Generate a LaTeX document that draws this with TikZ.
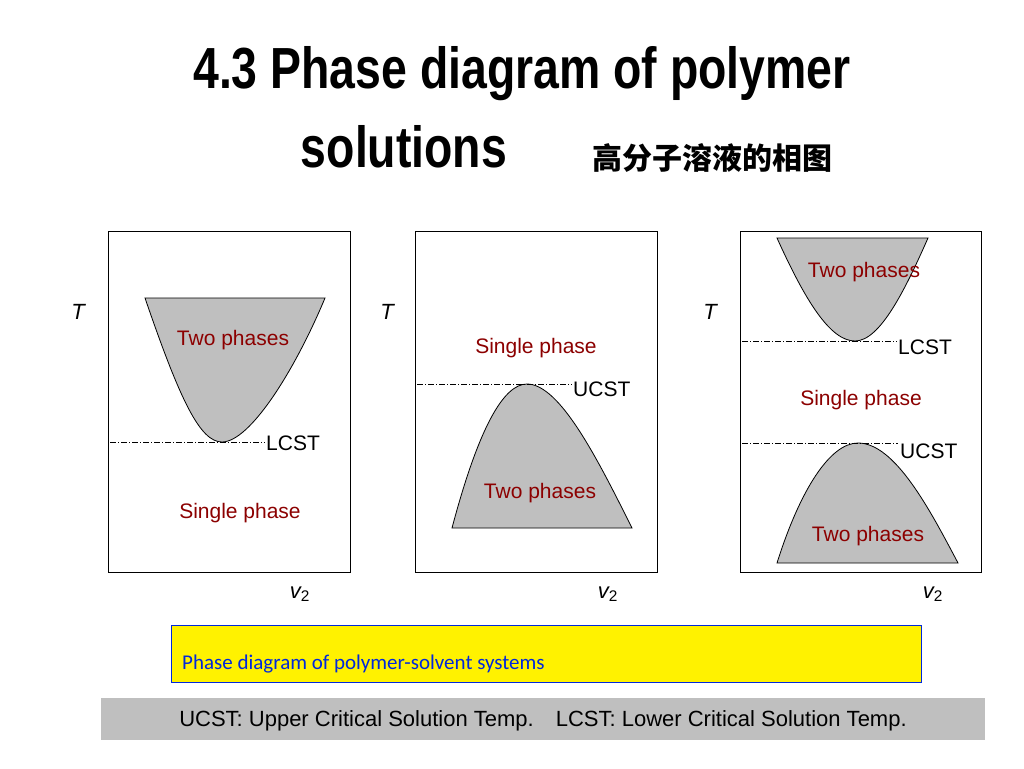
\documentclass[tikz,border=0pt]{standalone}
\usepackage{fontspec}
\setmainfont{Liberation Sans}
\newfontfamily\cjk{Noto Sans CJK SC}
\newfontfamily\carl{Carlito}
\definecolor{dred}{RGB}{140,0,0}
\definecolor{ublue}{RGB}{0,40,220}
\begin{document}
\begin{tikzpicture}[x=1pt,y=-1pt,
  lab/.style={text=dred,font=\fontsize{21}{21}\selectfont,inner sep=0pt},
  crit/.style={font=\fontsize{21}{21}\selectfont,inner sep=0pt,anchor=west},
  ax/.style={font=\fontsize{22}{22}\selectfont\itshape,inner sep=0pt},
  frame/.style={draw=black,line width=0.8pt},
  dd/.style={line width=0.6pt,dash pattern=on 6pt off 2pt on 1pt off 2pt},
  ph/.style={fill=black!25,draw=black,line width=0.8pt}]
\useasboundingbox (0,0) rectangle (1024,768);
\fill[white] (0,0) rectangle (1024,768);
% title
\node[font=\fontsize{58}{58}\selectfont\bfseries,xscale=0.8,inner sep=0pt] (t1) at (522,74) {4.3 Phase diagram of polymer};
\node[font=\fontsize{58}{58}\selectfont\bfseries,xscale=0.8,inner sep=0pt] (t2) at (404,147) {solutions};
\node[font=\fontsize{30}{30}\selectfont\cjk\bfseries,inner sep=0pt] (t3) at (712,158) {高分子溶液的相图};
% panel 1
\draw[frame] (108,231) rectangle (350,572);
\draw[ph] (145,298) .. controls (180,400) and (200,442) .. (222,442) .. controls (250,442) and (295,370) .. (325,298) -- cycle;
\draw[dd] (110,442) -- (265,442);
\node[crit] (l1) at (266,443) {LCST};
\node[lab] (a1) at (233,340) {Two phases};
\node[lab] (b1) at (240,513) {Single phase};
\node[ax] (T1) at (78,312) {T};
\node[ax] (v1) at (300,594) {v\textsubscript{\upshape 2}};
% panel 2
\draw[frame] (415,231) rectangle (657,572);
\draw[ph] (452,528) .. controls (478,430) and (503,384) .. (527,384) .. controls (560,384) and (598,460) .. (632,528) -- cycle;
\draw[dd] (417,384) -- (572,384);
\node[crit] (l2) at (573,389) {UCST};
\node[lab] (a2) at (536,348) {Single phase};
\node[lab] (b2) at (540,493) {Two phases};
\node[ax] (T2) at (387,312) {T};
\node[ax] (v2) at (608,594) {v\textsubscript{\upshape 2}};
% panel 3
\draw[frame] (740,231) rectangle (981,572);
\draw[ph] (777,238) .. controls (805,300) and (830,341) .. (855,341) .. controls (880,341) and (905,290) .. (928,238) -- cycle;
\draw[dd] (742,341) -- (897,341);
\node[crit] (l3) at (898,347) {LCST};
\node[lab] (a3) at (864,272) {Two phases};
\node[lab] (s3) at (861,400) {Single phase};
\draw[ph] (777,563) .. controls (800,490) and (830,443) .. (858,443) .. controls (895,443) and (930,510) .. (958,563) -- cycle;
\draw[dd] (742,443) -- (898,443);
\node[crit] (u3) at (900,451) {UCST};
\node[lab] (b3) at (868,536) {Two phases};
\node[ax] (T3) at (710,312) {T};
\node[ax] (v3) at (933,594) {v\textsubscript{\upshape 2}};
% captions
\draw[fill=yellow,draw=ublue,line width=0.6pt] (171,625) rectangle (921,682);
\node[font=\fontsize{21}{21}\selectfont\carl,text=ublue,anchor=west,inner sep=0pt] (cap) at (182,664) {Phase diagram of polymer-solvent systems};
\fill[black!25] (101,698) rectangle (985,740);
\node[font=\fontsize{22}{22}\selectfont,inner sep=0pt] (c2) at (543,721) {UCST: Upper Critical Solution Temp.\quad LCST: Lower Critical Solution Temp.};
\end{tikzpicture}
\end{document}
